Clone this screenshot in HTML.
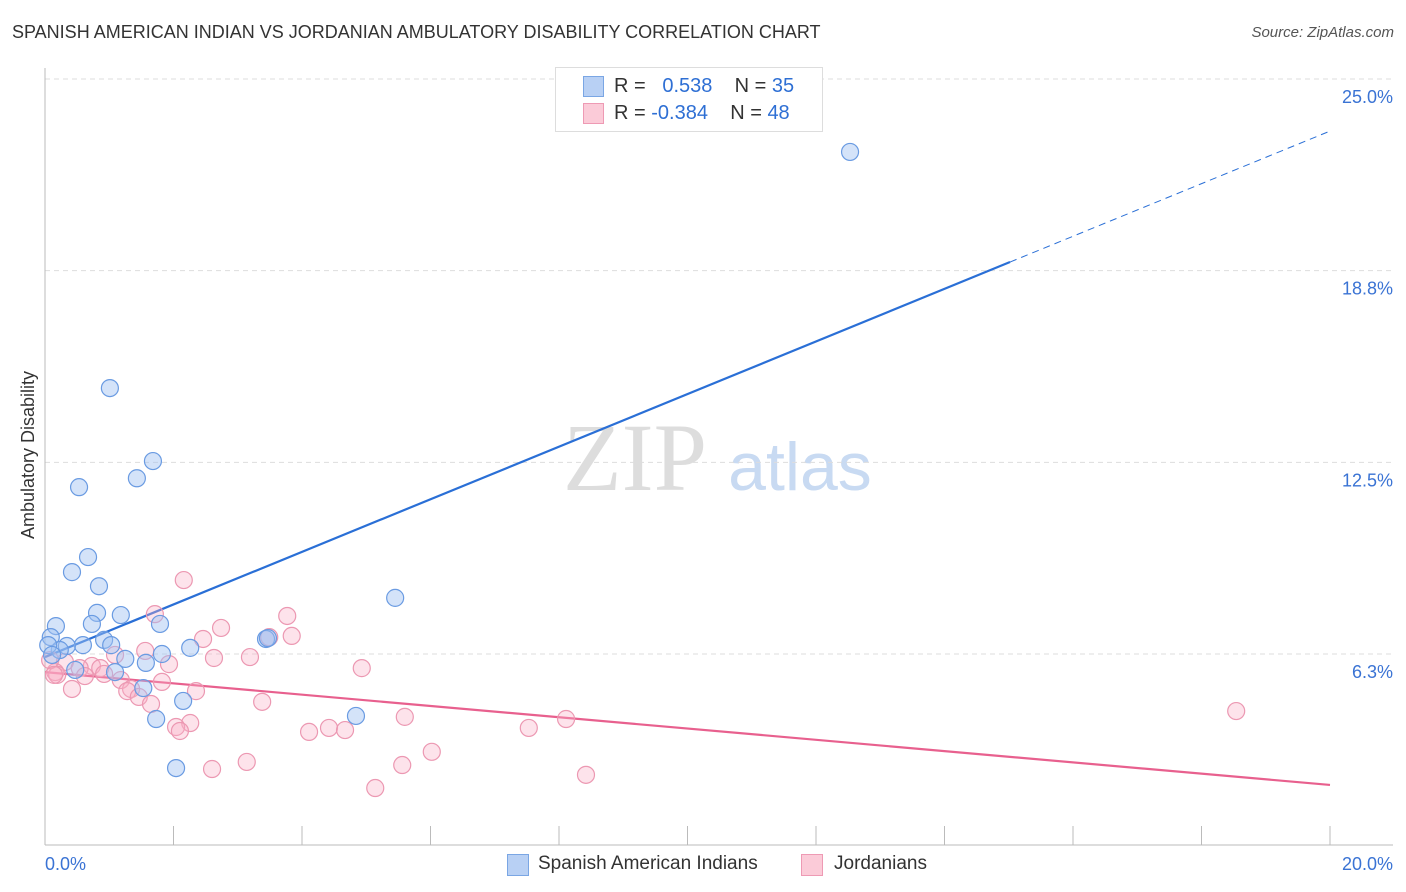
<!DOCTYPE html>
<html><head><meta charset="utf-8">
<style>
body{margin:0;background:#fff;font-family:"Liberation Sans",sans-serif;}
#wrap{position:relative;width:1406px;height:892px;overflow:hidden;}
.t{position:absolute;white-space:nowrap;}
</style></head>
<body>
<div id="wrap">
<div class="t" style="left:12px;top:22px;font-size:18px;color:#333;">SPANISH AMERICAN INDIAN VS JORDANIAN AMBULATORY DISABILITY CORRELATION CHART</div>
<div class="t" style="right:12px;top:24px;font-size:15px;color:#555;font-style:italic;">Source: ZipAtlas.com</div>
<svg id="svg" width="1406" height="892" style="position:absolute;left:0;top:0">
<text x="635" y="490" font-size="96" fill="#ddd" font-family="Liberation Serif" text-anchor="middle">ZIP</text>
<text x="800" y="490" font-size="68" fill="#c8daf2" font-family="Liberation Sans" text-anchor="middle">atlas</text>
<g id="grid"></g><g id="axes"></g><g id="lines"></g><g id="pts"></g>
<text x="34" y="455" font-size="18" fill="#333" transform="rotate(-90 34 455)" text-anchor="middle">Ambulatory Disability</text>
</svg>
<div class="t" style="left:555px;top:67px;width:266px;height:63px;border:1px solid #ddd;background:#fff;font-size:20px;color:#333;">
 <div style="position:absolute;left:27px;top:8px;width:19px;height:19px;background:#b8d0f4;border:1px solid #7aa6e4;"></div>
 <div class="t" style="left:58px;top:7px;">R = &nbsp;&nbsp;<span style="color:#2e6fd4">0.538</span>&nbsp;&nbsp;&nbsp;&nbsp;N = <span style="color:#2e6fd4">35</span></div>
 <div style="position:absolute;left:27px;top:35px;width:19px;height:19px;background:#fbcbd8;border:1px solid #ee9ab4;"></div>
 <div class="t" style="left:58px;top:34px;">R = <span style="color:#2e6fd4">-0.384</span>&nbsp;&nbsp;&nbsp;&nbsp;N = <span style="color:#2e6fd4">48</span></div>
</div>
<div>
 <div style="position:absolute;left:507px;top:854px;width:20px;height:20px;background:#b8d0f4;border:1px solid #7aa6e4;"></div>
 <div class="t" style="left:538px;top:853px;font-size:19px;color:#333;">Spanish American Indians</div>
 <div style="position:absolute;left:801px;top:854px;width:20px;height:20px;background:#fbcbd8;border:1px solid #ee9ab4;"></div>
 <div class="t" style="left:834px;top:853px;font-size:19px;color:#333;">Jordanians</div>
</div>
</div>
<script>
const yTicks=[6.25,12.5,18.75,25];
const yTickLabels=["6.3%","12.5%","18.8%","25.0%"];
const xLabels=["0.0%","20.0%"];
const blueX=[12.53,1.01,1.68,0.53,1.43,0.67,0.42,0.84,5.45,0.81,1.18,0.17,0.73,1.79,0.09,3.44,3.47,0.92,0.59,1.03,0.34,2.26,0.23,1.82,1.25,1.57,0.47,1.09,1.53,2.15,1.73,4.84,2.04,0.05,0.11];
const blueY=[22.62,14.92,12.54,11.69,11.98,9.41,8.92,8.46,8.08,7.59,7.52,7.16,7.23,7.23,6.80,6.74,6.77,6.71,6.54,6.54,6.51,6.45,6.38,6.25,6.09,5.96,5.73,5.66,5.14,4.72,4.13,4.23,2.53,6.54,6.22];
const pinkX=[2.16,1.71,3.77,2.74,2.46,3.49,3.84,1.56,1.09,3.19,2.63,1.93,0.31,0.73,0.86,4.93,0.54,0.16,0.92,0.62,0.19,1.18,1.82,1.34,2.35,0.42,1.28,1.46,3.38,1.65,5.60,8.11,7.53,18.54,2.26,2.04,2.10,4.11,4.42,4.67,6.02,3.14,2.60,5.56,8.42,5.14,0.08,0.14];
const pinkY=[8.66,7.55,7.49,7.10,6.74,6.80,6.84,6.35,6.22,6.15,6.12,5.92,5.99,5.86,5.79,5.79,5.79,5.66,5.60,5.53,5.57,5.40,5.34,5.11,5.04,5.11,5.04,4.85,4.69,4.62,4.20,4.13,3.84,4.39,4.00,3.87,3.74,3.71,3.84,3.77,3.06,2.73,2.50,2.63,2.31,1.88,6.05,5.57];
const blueTrend=[6.15,19.03,23.3]; // at x=0, 15.02, 20
const blueTrendX=[0,15.02,20];
const pinkTrend=[5.66,1.98];
const pinkTrendX=[0,20];

const X=v=>45+v/20*1285;
const Y=v=>654-(v-6.25)*30.67;
const NS="http://www.w3.org/2000/svg";
function mk(par,tag,at){const e=document.createElementNS(NS,tag);for(const k in at)e.setAttribute(k,at[k]);document.getElementById(par).appendChild(e);return e;}
yTicks.forEach((v,i)=>{
  const g=mk('grid','line',{x1:45,x2:1393,y1:Y(v),y2:Y(v),stroke:'#ddd','stroke-dasharray':'5,4'});
  
  
  const t=mk('axes','text',{x:1393,y:Y(v)+24,'font-size':18,fill:'#3a73d4','text-anchor':'end'});
  t.textContent=yTickLabels[i];
  
  
});
const ax=mk('axes','line',{x1:45,x2:45,y1:68,y2:845,stroke:'#bbb'});


const bx=mk('axes','line',{x1:45,x2:1393,y1:845,y2:845,stroke:'#bbb'});


for(let i=0;i<=10;i++){
  const tk=mk('axes','line',{x1:X(i*2),x2:X(i*2),y1:826,y2:845,stroke:'#bbb'});
  
  
}
[[0,'start',45],[20,'end',1393]].forEach((a,i)=>{
  const t=mk('axes','text',{x:a[2],y:870,'font-size':18,fill:'#3a73d4','text-anchor':a[1]});
  t.textContent=xLabels[i];
  
  
});
function dot(x,y,f,s,n){
  const c=mk('pts','circle',{cx:X(x),cy:Y(y),r:8.5,fill:f,stroke:s,'stroke-width':1.2});
  
  
}
pinkX.forEach((x,i)=>dot(x,pinkY[i],'rgba(248,175,198,0.35)','#ec98b2','point-jordanian'));
blueX.forEach((x,i)=>dot(x,blueY[i],'rgba(160,192,242,0.45)','#6a9be2','point-spanish-american-indian'));
const l1=mk('lines','line',{x1:X(blueTrendX[0]),y1:Y(blueTrend[0]),x2:X(blueTrendX[1]),y2:Y(blueTrend[1]),stroke:'#2a6fd6','stroke-width':2.2});


const l2=mk('lines','line',{x1:X(blueTrendX[1]),y1:Y(blueTrend[1]),x2:X(blueTrendX[2]),y2:Y(blueTrend[2]),stroke:'#2a6fd6','stroke-width':1,'stroke-dasharray':'7,5'});


const l3=mk('lines','line',{x1:X(pinkTrendX[0]),y1:Y(pinkTrend[0]),x2:X(pinkTrendX[1]),y2:Y(pinkTrend[1]),stroke:'#e8608e','stroke-width':2.2});


</script>
</body></html>
